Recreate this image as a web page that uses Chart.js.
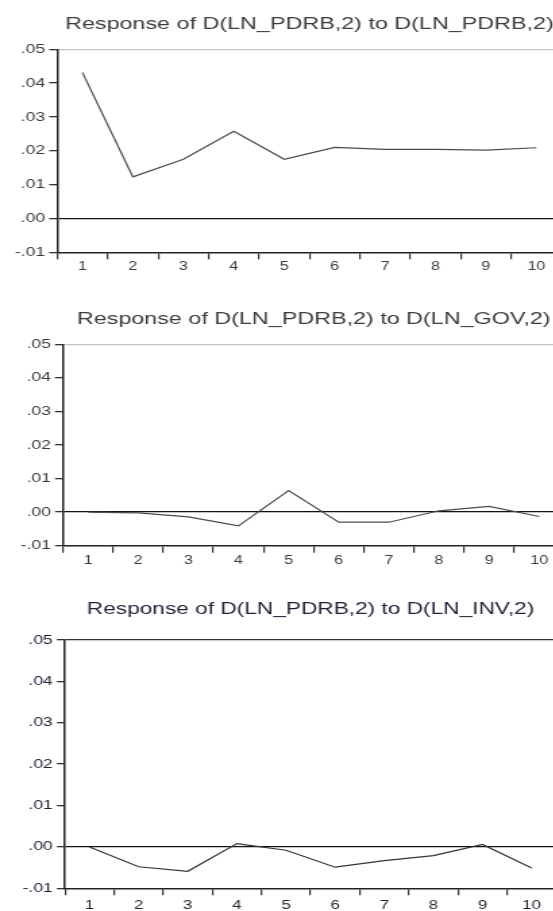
<!DOCTYPE html>
<html>
<head>
<meta charset="utf-8">
<script src="https://cdn.jsdelivr.net/npm/chart.js@4.4.1/dist/chart.umd.min.js"></script>
<style>
  html, body { margin: 0; padding: 0; background: #fff; }
  body { width: 553px; height: 911px; overflow: hidden; position: relative; }
  .panel { position: absolute; left: 0; }
  /* the source picture is stretched sideways, so the canvases are too */
  .panel canvas { transform: scaleX(1.35); transform-origin: 0 0; }
</style>
</head>
<body>
<div class="panel" style="top:0px"><canvas id="chart-pdrb" width="416" height="285"></canvas></div>
<div class="panel" style="top:285px"><canvas id="chart-gov" width="418" height="290"></canvas></div>
<div class="panel" style="top:575px"><canvas id="chart-inv" width="412" height="336"></canvas></div>
<script>
const periods = ["1", "2", "3", "4", "5", "6", "7", "8", "9", "10"]
const pdrbResponse = [0.0431, 0.0123, 0.0175, 0.0258, 0.0175, 0.0210, 0.0204, 0.0204, 0.0202, 0.0209]
const govResponse = [0.0000, -0.0002, -0.0014, -0.0041, 0.0064, -0.0030, -0.0030, 0.0004, 0.0017, -0.0013]
const invResponse = [0.0000, -0.0048, -0.0059, 0.0008, -0.0008, -0.0049, -0.0033, -0.0021, 0.0006, -0.0051]
const yMin = -0.01
const yMax = 0.05
const yStep = 0.01
const fontFamily = "'Liberation Sans', Arial, sans-serif"

function tickLabel(value) {
    if (Math.abs(value) < 1e-9) value = 0
    return value.toFixed(2).replace("0.", ".")
}

function renderPanel(canvasId, title, values, look) {
    new Chart(document.getElementById(canvasId), {
        type: "line",
        data: {
            labels: periods,
            datasets: [{
                data: values,
                borderColor: look.lineColor,
                borderWidth: 1.2,
                pointRadius: 0,
                tension: 0
            }]
        },
        options: {
            responsive: false,
            animation: false,
            devicePixelRatio: 1,
            layout: { padding: 0 },
            plugins: {
                legend: { display: false },
                tooltip: { enabled: false },
                title: {
                    display: true,
                    text: title,
                    fullSize: false,
                    color: look.textColor,
                    font: { family: fontFamily, size: look.titleSize, weight: "normal" },
                    padding: { top: look.titleTop, bottom: look.titleBottom }
                }
            },
            scales: {
                x: {
                    offset: true,
                    grid: { offset: true, drawOnChartArea: false, color: "#333", tickLength: 7, lineWidth: 1.2 },
                    border: { display: true, color: "#222", width: 1.5 },
                    ticks: {
                        color: look.textColor,
                        font: { family: fontFamily, size: look.xTickSize },
                        padding: look.xPad,
                        maxRotation: 0,
                        autoSkip: false
                    },
                    afterFit: (axis) => { axis.height = look.xHeight }
                },
                y: {
                    min: yMin,
                    max: yMax,
                    grid: {
                        color: (ctx) => {
                            const v = ctx.tick ? ctx.tick.value : null
                            if (v !== null && Math.abs(v) < 1e-9) return "#111"
                            if (v !== null && Math.abs(v - yMax) < 1e-9) return look.topLine
                            return "rgba(0,0,0,0)"
                        },
                        lineWidth: 1.3,
                        tickColor: "#333",
                        tickLength: 6
                    },
                    border: { display: true, color: "#222", width: 1.5 },
                    ticks: {
                        stepSize: yStep,
                        color: look.textColor,
                        font: { family: fontFamily, size: look.yTickSize },
                        padding: 3,
                        callback: (value) => tickLabel(value)
                    },
                    afterFit: (axis) => { axis.width = look.yWidth }
                }
            }
        }
    })
}

renderPanel("chart-pdrb", "Response of D(LN_PDRB,2) to D(LN_PDRB,2)", pdrbResponse, {
    yWidth: 42.4, xHeight: 32.7, titleSize: 17.3, titleTop: 13.6, titleBottom: 14.9,
    yTickSize: 13, xTickSize: 12, xPad: 0.5,
    textColor: "#3c3c3c", lineColor: "#4a4a4a", topLine: "#c4c4c4"
})

renderPanel("chart-gov", "Response of D(LN_PDRB,2) to D(LN_GOV,2)", govResponse, {
    yWidth: 46.7, xHeight: 29.3, titleSize: 17.3, titleTop: 23.6, titleBottom: 14.9,
    yTickSize: 13, xTickSize: 12, xPad: 0.5,
    textColor: "#3c3c3c", lineColor: "#4a4a4a", topLine: "#c4c4c4"
})

renderPanel("chart-inv", "Response of D(LN_PDRB,2) to D(LN_INV,2)", invResponse, {
    yWidth: 48.1, xHeight: 22.7, titleSize: 16.8, titleTop: 23.9, titleBottom: 20.9,
    yTickSize: 13, xTickSize: 12.5, xPad: 3,
    textColor: "#1e2235", lineColor: "#333333", topLine: "#333333"
})
</script>
</body>
</html>
